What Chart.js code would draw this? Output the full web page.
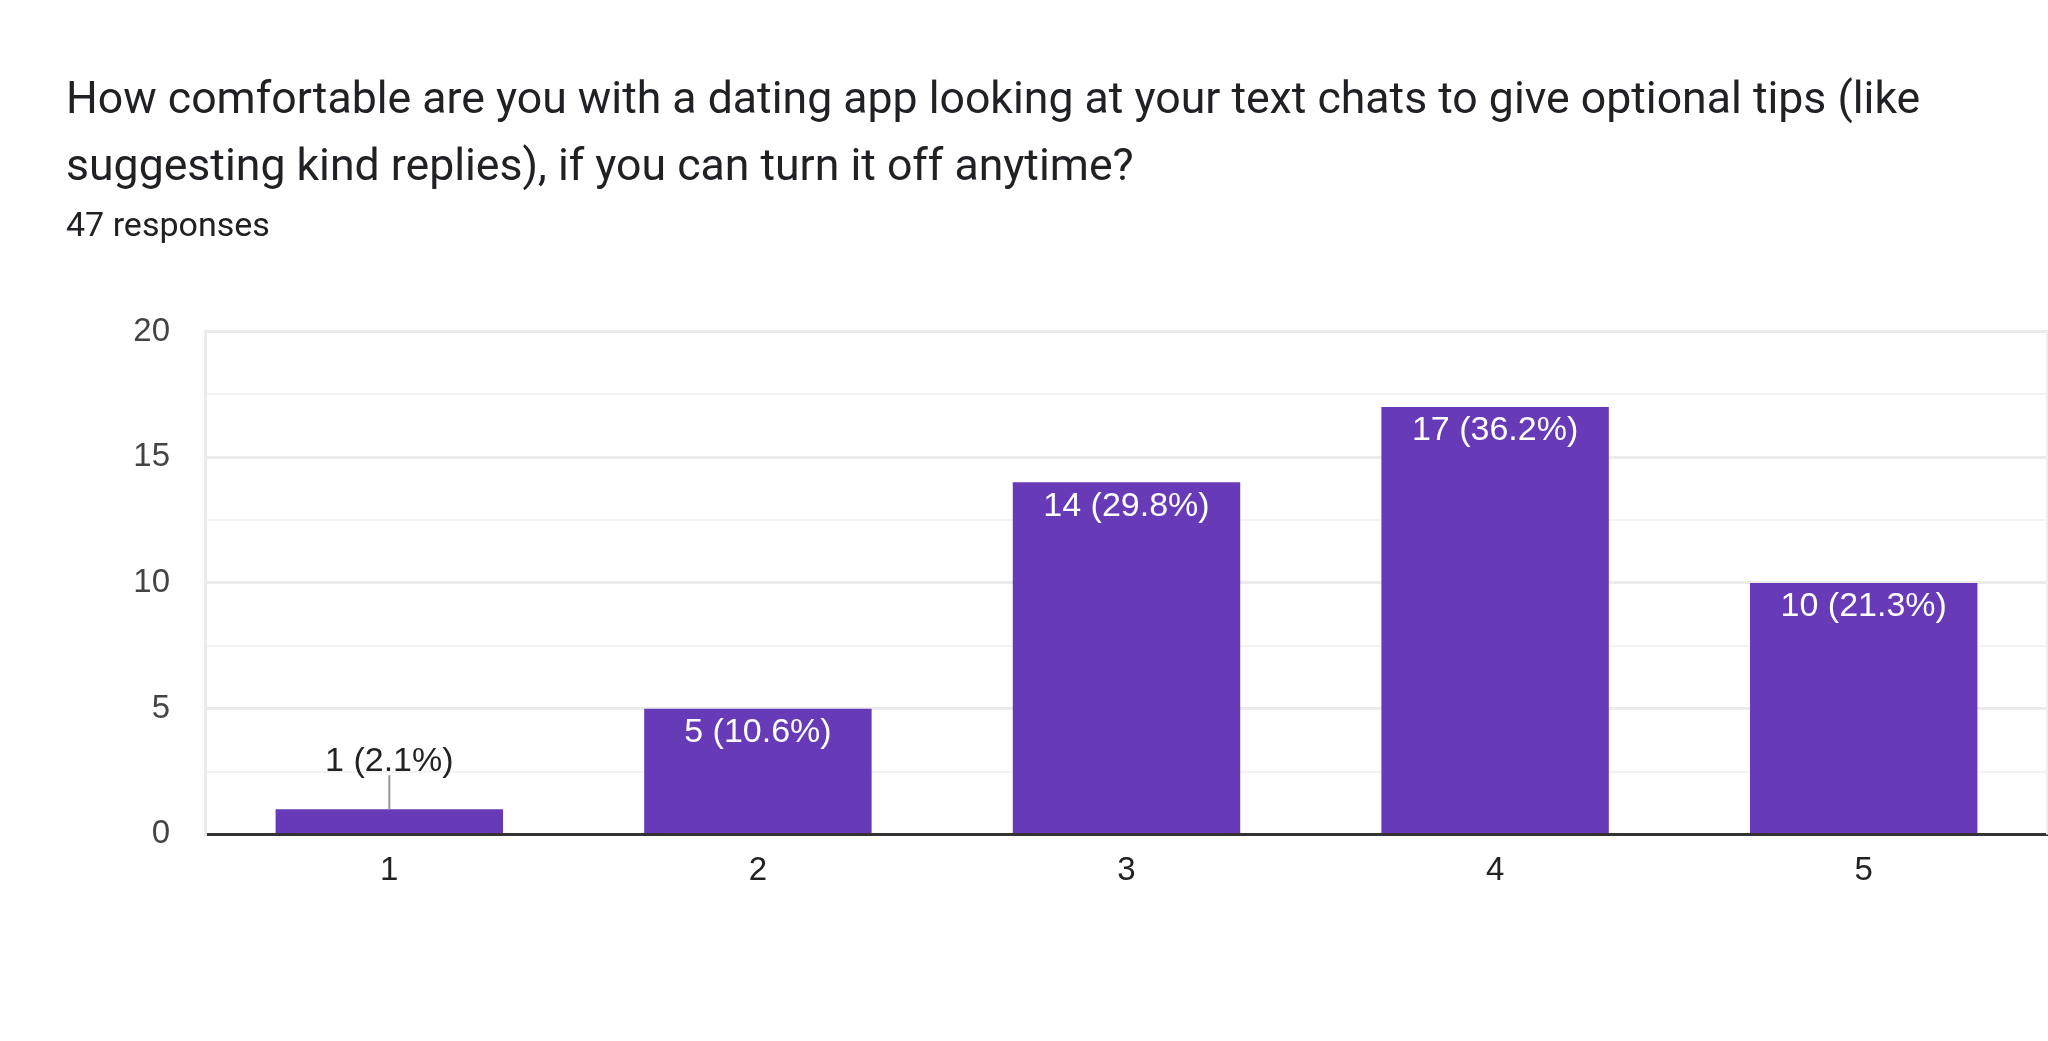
<!DOCTYPE html>
<html><head><meta charset="utf-8">
<script src="https://cdn.jsdelivr.net/npm/chart.js@4"></script>
<style>html,body{margin:0;padding:0;background:#fff;overflow:hidden}#wrap{position:relative;width:2048px;height:1041px}</style>
</head><body><div id="wrap"><canvas id="c" width="2048" height="1041" style="width:2048px;height:1041px"></canvas></div>
<script>
const titleLines = [
  'How comfortable are you with a dating app looking at your text chats to give optional tips (like',
  'suggesting kind replies), if you can turn it off anytime?'
];
const subtitleText = '47 responses';
const categories = ['1', '2', '3', '4', '5'];
const counts = [1, 5, 14, 17, 10];
const percents = ['2.1%', '10.6%', '29.8%', '36.2%', '21.3%'];
const yMin = 0;
const yMax = 20;
const yStep = 2.5;
const yLabelStep = 5;

const CHART_FONT = '"Liberation Sans", Arial, sans-serif';
const BAR_COLOR = '#673ab7';

const decorPlugin = {
  id: 'decor',
  beforeDatasetsDraw(chart) {
    const {ctx, chartArea} = chart;
    ctx.save();
    ctx.strokeStyle = '#eeeeee';
    ctx.lineWidth = 2;
    ctx.beginPath();
    ctx.moveTo(chartArea.right - 1, chartArea.top);
    ctx.lineTo(chartArea.right - 1, chartArea.bottom);
    ctx.stroke();
    ctx.restore();
  },
  afterDatasetsDraw(chart) {
    const {ctx} = chart;
    const meta = chart.getDatasetMeta(0);
    ctx.save();
    ctx.font = '34px ' + CHART_FONT;
    ctx.textAlign = 'center';
    ctx.textBaseline = 'middle';
    meta.data.forEach((el, i) => {
      const label = counts[i] + ' (' + percents[i] + ')';
      const h = el.base - el.y;
      if (h > 60) {
        ctx.fillStyle = '#ffffff';
        ctx.fillText(label, el.x, el.y + 24);
      } else {
        ctx.strokeStyle = '#999999';
        ctx.lineWidth = 2;
        ctx.beginPath();
        ctx.moveTo(el.x, el.y);
        ctx.lineTo(el.x, el.y - 34);
        ctx.stroke();
        ctx.fillStyle = '#222222';
        ctx.fillText(label, el.x, el.y - 48);
      }
    });
    ctx.restore();
  }
};

new Chart(document.getElementById('c'), {
  type: 'bar',
  data: {
    labels: categories,
    datasets: [{
      data: counts,
      backgroundColor: BAR_COLOR,
      borderWidth: 0,
      barPercentage: 0.617,
      categoryPercentage: 1.0
    }]
  },
  options: {
    responsive: false,
    animation: false,
    devicePixelRatio: 1,
    layout: {padding: {left: 66, right: 0, top: 0, bottom: 141}},
    plugins: {
      legend: {display: false},
      tooltip: {enabled: false},
      title: {
        display: true,
        text: titleLines,
        align: 'start',
        color: '#202124',
        font: {family: 'Roboto', size: 44.6, weight: '400', lineHeight: 1.51},
        padding: {top: 68, bottom: 0}
      },
      subtitle: {
        display: true,
        text: subtitleText,
        align: 'start',
        color: '#202124',
        font: {family: 'Roboto', size: 34, weight: '400', lineHeight: 1.2},
        padding: {top: 4, bottom: 84}
      }
    },
    scales: {
      x: {
        grid: {display: false},
        border: {display: true, color: '#333333', width: 3},
        ticks: {font: {family: CHART_FONT, size: 33}, color: '#222222', padding: 9}
      },
      y: {
        min: yMin,
        max: yMax,
        afterFit: (s) => { s.width = 139; },
        border: {display: true, color: '#ebebeb', width: 3},
        grid: {
          drawTicks: false,
          color: (c) => c.tick.value === 0 ? 'rgba(0,0,0,0)' : (c.tick.value % yLabelStep === 0 ? '#ebebeb' : '#f3f3f3'),
          lineWidth: (c) => c.tick.value % yLabelStep === 0 ? 3 : 2
        },
        ticks: {
          stepSize: yStep,
          font: {family: CHART_FONT, size: 33},
          color: '#444444',
          padding: 35,
          callback: (v) => v % yLabelStep === 0 ? String(v) : ''
        }
      }
    }
  },
  plugins: [decorPlugin]
});
</script></body></html>
